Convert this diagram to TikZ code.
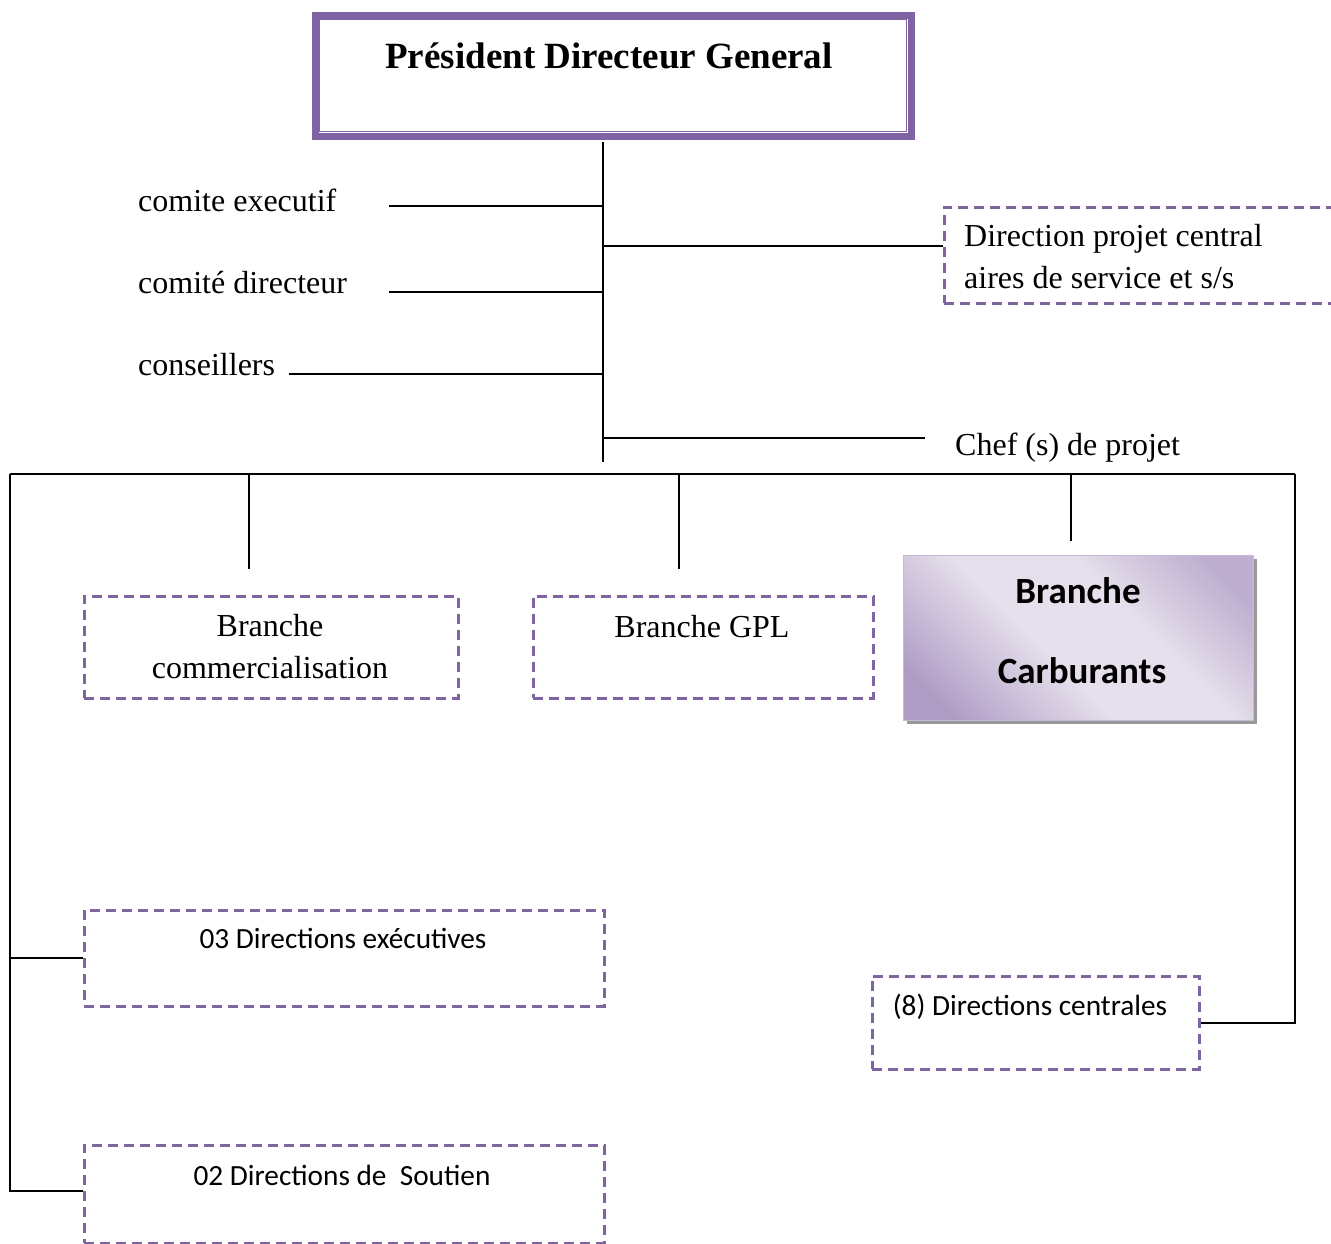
\documentclass[tikz,border=0pt]{standalone}
\usepackage{fontspec}
\setmainfont{Liberation Serif}
\newfontfamily\calibri{Carlito}
\definecolor{offpurple}{HTML}{8064A2}
\definecolor{lavlight}{HTML}{E6E0EC}
\definecolor{lavdark}{HTML}{B09DC6}
\definecolor{lavmid}{HTML}{BEAFD0}
\pgfdeclareverticalshading{carbshade}{100bp}{color(0bp)=(lavmid); color(22bp)=(lavmid); color(40bp)=(lavlight); color(56bp)=(lavlight); color(78bp)=(lavdark); color(100bp)=(lavdark)}
\tikzset{
  conn/.style={draw=black, line width=2pt},
  dashbox/.style={draw=offpurple, line width=2.5pt, dash pattern=on 10pt off 6pt, rectangle, inner sep=0pt},
  timestxt/.style={font=\fontsize{32}{38}\selectfont, inner sep=0pt},
  calitxt/.style={font=\calibri\fontsize{29.3}{35}\selectfont, inner sep=0pt},
  calibold/.style={font=\calibri\bfseries\fontsize{37}{44}\selectfont, inner sep=0pt},
}
\begin{document}
\begin{tikzpicture}[x=1pt,y=-1pt]
\clip (0,0) rectangle (1331,1243);
\fill[white] (0,0) rectangle (1331,1243);

% President box
\node[draw=offpurple, line width=7pt, rectangle, minimum width=596pt, minimum height=121pt, anchor=north west, inner sep=0pt] (pdg) at (311.5,11.5) {};
\draw[offpurple, line width=1.5pt] ([xshift=8pt,yshift=-8pt]pdg.north west) rectangle ([xshift=-8pt,yshift=8pt]pdg.south east);
\node[font=\bfseries\fontsize{37}{44}\selectfont, inner sep=0pt, anchor=base] (pdgtxt) at (609,68) {Président Directeur General};

% trunk
\coordinate (t0) at (603,142);
\coordinate (t1) at (603,462);
\draw[conn] (t0) -- (t1);

% left labels
\node[timestxt, anchor=base west] (ce) at (138,211) {comite executif};
\node[timestxt, anchor=base west] (cd) at (138,293) {comité directeur};
\node[timestxt, anchor=base west] (cs) at (138,375) {conseillers};
\coordinate (ceL) at (389,206);
\coordinate (cdL) at (389,292);
\coordinate (csL) at (289,374);
\draw[conn] (ceL) -- (ceL -| t0);
\draw[conn] (cdL) -- (cdL -| t0);
\draw[conn] (csL) -- (csL -| t0);

% Direction projet box
\node[dashbox, minimum width=420pt, minimum height=96pt, anchor=north west] (dp) at (943,206) {};
\node[timestxt, anchor=base west] (dp1) at (964,246) {Direction projet central};
\node[timestxt, anchor=base west] (dp2) at (964,288) {aires de service et s/s};
\draw[conn] (dp.west |- 0,246) coordinate (dpL) -- (dpL -| t0);

% Chef de projet
\node[timestxt, anchor=base west] (chef) at (955,455) {Chef (s) de projet};
\coordinate (chefL) at (925,438);
\draw[conn] (chefL) -- (chefL -| t0);

% bus
\coordinate (busL) at (10,474);
\coordinate (busR) at (1295,474);
\draw[conn] (busL) -- (busR);

% branch boxes
\node[dashbox, minimum width=374pt, minimum height=102pt, anchor=north west] (bc) at (83,595) {};
\node[timestxt, anchor=base] (bc1) at (270,636) {Branche};
\node[timestxt, anchor=base] (bc2) at (270,678) {commercialisation};

\node[dashbox, minimum width=340pt, minimum height=102pt, anchor=north west] (bg) at (532,595) {};
\node[timestxt, anchor=base] (bg1) at (702,637) {Branche GPL};

% Branche Carburants (shadow + gradient)
\fill[black!40] (907,559) rectangle (1257,724);
\shade[shading=carbshade, shading angle=135]
  (903,555) rectangle (1253,720);
\node[rectangle, minimum width=350pt, minimum height=165pt, anchor=north west, inner sep=0pt,
      draw=lavdark!70!white, line width=1pt] (bcar) at (903,555) {};
\node[calibold, anchor=base] (bcar1) at (1078,603) {Branche};
\node[calibold, anchor=base] (bcar2) at (1082,683) {Carburants};

% drops
\coordinate (dr1) at (249,569);
\coordinate (dr2) at (679,569);
\coordinate (dr3) at (1071,541);
\draw[conn] (dr1 |- busL) -- (dr1);
\draw[conn] (dr2 |- busL) -- (dr2);
\draw[conn] (dr3 |- busL) -- (dr3);

% lower boxes
\node[dashbox, minimum width=520pt, minimum height=96pt, anchor=north west] (d3) at (83,909) {};
\node[calitxt, anchor=base] (d3t) at (343,948) {03 Directions exécutives};

\node[dashbox, minimum width=327pt, minimum height=93pt, anchor=north west] (d8) at (871,975) {};
\node[calitxt, anchor=base] (d8t) at (1030,1015) {(8) Directions centrales};

\node[dashbox, minimum width=520pt, minimum height=98pt, anchor=north west] (d2) at (83,1144) {};
\node[calitxt, anchor=base] (d2t) at (342,1185) {02 Directions de\ \ Soutien};

% side connectors
\coordinate (d2c) at ([yshift=3.5pt]d2.west);
\draw[conn] (busL) |- (d2c);
\draw[conn] (busL |- d3.west) -- (d3.west);
\draw[conn] (busR) |- (d8.east);
\end{tikzpicture}
\end{document}
